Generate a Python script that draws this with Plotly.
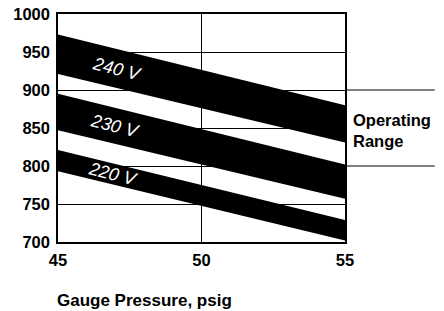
import plotly.graph_objects as go

pressure = [45, 55]
v240_upper = [973, 880]
v240_lower = [921, 831]
v230_upper = [895, 802]
v230_lower = [847, 757]
v220_upper = [821, 729]
v220_lower = [793, 702]
band_labels = ["240 V", "230 V", "220 V"]
label_x = [47.05, 46.98, 46.9]
label_y = [927, 853, 790]
x_ticks = [45, 50, 55]
y_ticks = [700, 750, 800, 850, 900, 950, 1000]
range_lines = [900, 800]

FONT = "Liberation Sans, Arial, Helvetica, sans-serif"

fig = go.Figure()
for up, lo in [(v240_upper, v240_lower), (v230_upper, v230_lower), (v220_upper, v220_lower)]:
    fig.add_trace(go.Scatter(
        x=pressure + pressure[::-1],
        y=up + lo[::-1],
        fill="toself", fillcolor="black", mode="lines",
        line=dict(width=0, color="black"), hoverinfo="skip", showlegend=False))

for t, x, y in zip(band_labels, label_x, label_y):
    fig.add_annotation(x=x, y=y, text="<i>" + t + "</i>", showarrow=False,
                       textangle=14, font=dict(family=FONT, size=18, color="white"))

for y in range_lines:
    fig.add_shape(type="line", xref="paper", yref="y", x0=1, x1=1.313, y0=y, y1=y,
                  line=dict(color="black", width=1))

fig.add_annotation(xref="paper", yref="y", x=1.022, y=847, text="<b>Operating<br>Range</b>",
                   showarrow=False, xanchor="left", yanchor="middle", align="left",
                   font=dict(family=FONT, size=16.5, color="black"))
fig.add_annotation(xref="paper", yref="paper", x=-0.0105, y=-0.257,
                   text="<b>Gauge Pressure, psig</b>", showarrow=False,
                   xanchor="left", yanchor="middle",
                   font=dict(family=FONT, size=17, color="black"))

fig.update_xaxes(range=[45, 55], tickvals=x_ticks, ticktext=[f"<b>{v}</b>" for v in x_ticks],
                 showgrid=True, gridcolor="black", gridwidth=1, automargin=False,
                 showline=True, linecolor="black", linewidth=1.5, mirror=True,
                 ticks="", zeroline=False, ticklabelstandoff=2,
                 tickfont=dict(family=FONT, size=16.5, color="black"))
fig.update_yaxes(range=[700, 1000], tickvals=y_ticks, ticktext=[f"<b>{v}</b>" for v in y_ticks],
                 showgrid=True, gridcolor="black", gridwidth=1, automargin=False,
                 showline=True, linecolor="black", linewidth=1.5, mirror=True,
                 ticks="", zeroline=False, ticklabelstandoff=3,
                 tickfont=dict(family=FONT, size=16.5, color="black"))

fig.update_layout(width=444, height=311, margin=dict(l=58, r=99, t=14, b=69, pad=0),
                  paper_bgcolor="white", plot_bgcolor="white", showlegend=False)

fig.write_html("out.html", config={"displayModeBar": False},
               post_script="document.body.style.margin='0';document.body.style.overflow='hidden';")
